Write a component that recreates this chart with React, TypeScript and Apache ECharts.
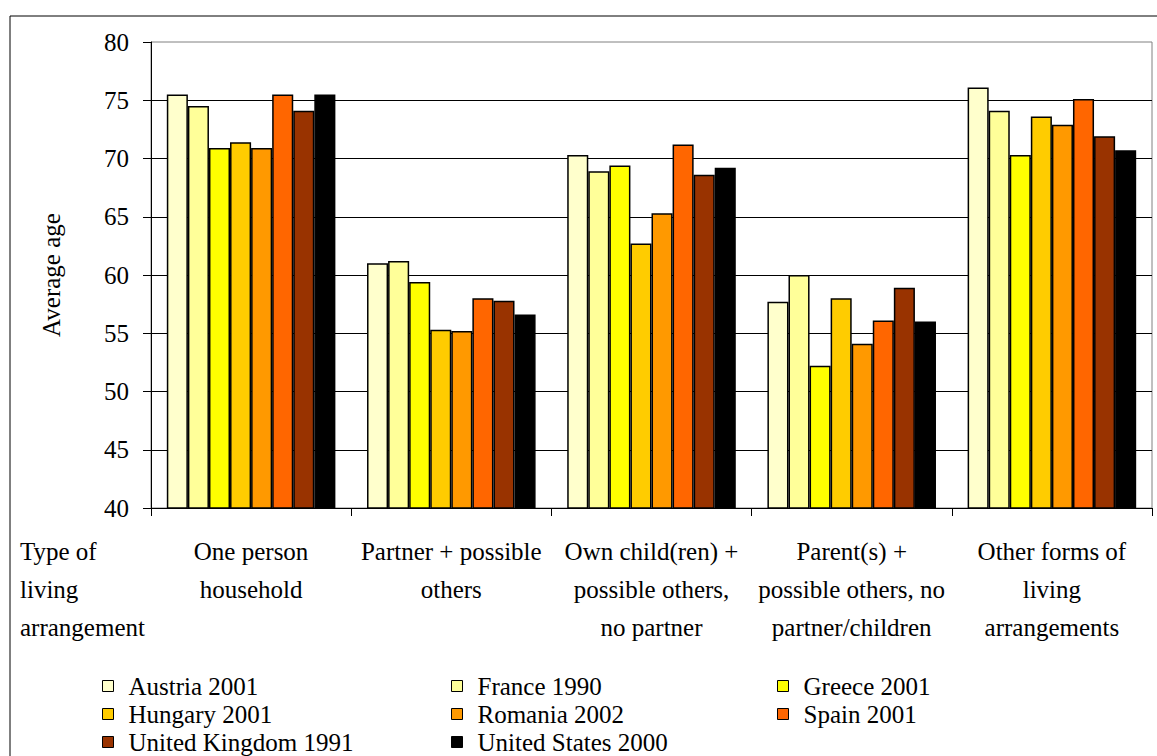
import React, { useEffect, useRef } from "react";
import * as echarts from "echarts";

// Living-arrangement categories along the x axis
const categories = [
  "One person\nhousehold",
  "Partner + possible\nothers",
  "Own child(ren) +\npossible others,\nno partner",
  "Parent(s) +\npossible others, no\npartner/children",
  "Other forms of\nliving\narrangements",
];

// Average age per country / census year
const austria2001 = [75.5, 61.0, 70.3, 57.7, 76.1];
const france1990 = [74.5, 61.2, 68.9, 60.0, 74.1];
const greece2001 = [70.9, 59.4, 69.4, 52.2, 70.3];
const hungary2001 = [71.4, 55.3, 62.7, 58.0, 73.6];
const romania2002 = [70.9, 55.2, 65.3, 54.1, 72.9];
const spain2001 = [75.5, 58.0, 71.2, 56.1, 75.1];
const uk1991 = [74.1, 57.8, 68.6, 58.9, 71.9];
const us2000 = [75.5, 56.6, 69.2, 56.0, 70.7];

const seriesNames = [
  "Austria 2001",
  "France 1990",
  "Greece 2001",
  "Hungary 2001",
  "Romania 2002",
  "Spain 2001",
  "United Kingdom 1991",
  "United States 2000",
];
const seriesValues = [
  austria2001,
  france1990,
  greece2001,
  hungary2001,
  romania2002,
  spain2001,
  uk1991,
  us2000,
];
const seriesColors = [
  "#FFFFCC",
  "#FFFF99",
  "#FFFF00",
  "#FFCC00",
  "#FF9900",
  "#FF6600",
  "#993300",
  "#000000",
];

const FONT = "Liberation Serif, Times New Roman, serif";
const FS = 25;

// legend grid: three columns, three rows
const legendCols = [102, 451, 777];
const legendRows = [672, 700, 728];

export default function App() {
  const ref = useRef<HTMLDivElement>(null);

  useEffect(() => {
    if (!ref.current) return;
    const chart = echarts.init(ref.current, undefined, { renderer: "svg" });

    const legends = seriesNames.map((name, i) => ({
      orient: "horizontal",
      left: legendCols[i % 3],
      top: legendRows[Math.floor(i / 3)],
      padding: 0,
      itemWidth: 11,
      itemHeight: 11,
      icon: "rect",
      data: [name],
      itemStyle: { borderColor: "#000", borderWidth: 1 },
      textStyle: {
        fontFamily: FONT,
        fontSize: FS,
        color: "#000",
        lineHeight: 28,
        padding: [0, 0, 0, 10],
      },
    }));

    chart.setOption({
      animation: false,
      backgroundColor: "#fff",
      textStyle: { fontFamily: FONT, color: "#000" },
      grid: {
        left: 151,
        top: 42,
        right: 5,
        bottom: 248,
        show: true,
        borderColor: "#808080",
        borderWidth: 1,
        containLabel: false,
      },
      legend: legends,
      xAxis: {
        type: "category",
        data: categories,
        axisLine: { show: true, lineStyle: { color: "#000", width: 1 } },
        axisTick: { show: true, length: 8, lineStyle: { color: "#000" } },
        axisLabel: {
          interval: 0,
          fontFamily: FONT,
          fontSize: FS,
          color: "#000",
          lineHeight: 38,
          margin: 24,
          align: "center",
        },
        splitLine: { show: false },
      },
      yAxis: {
        type: "value",
        min: 40,
        max: 80,
        interval: 5,
        name: "Average age",
        nameLocation: "middle",
        nameRotate: 90,
        nameGap: 87,
        nameTextStyle: { fontFamily: FONT, fontSize: FS, color: "#000" },
        axisLine: { show: true, lineStyle: { color: "#000", width: 1 } },
        axisTick: { show: true, length: 8, lineStyle: { color: "#000" } },
        axisLabel: {
          fontFamily: FONT,
          fontSize: FS,
          color: "#000",
          margin: 22,
        },
        splitLine: {
          show: true,
          showMaxLine: false,
          lineStyle: { color: "#000", width: 1 },
        },
      },
      series: seriesValues.map((vals, i) => ({
        name: seriesNames[i],
        type: "bar",
        data: vals,
        barGap: "0%",
        barCategoryGap: "15.8%",
        itemStyle: {
          color: seriesColors[i],
          borderColor: "#000",
          borderWidth: 1.5,
        },
      })),
      graphic: [
        {
          type: "rect",
          shape: { x: 10, y: 16, width: 1170, height: 780 },
          style: { fill: "none", stroke: "#000", lineWidth: 1 },
          silent: true,
        },
        {
          type: "text",
          left: 20,
          top: 532,
          style: {
            text: "Type of\nliving\narrangement",
            fontFamily: FONT,
            fontSize: FS,
            fill: "#000",
            lineHeight: 38,
          },
        },
      ],
    });

    return () => chart.dispose();
  }, []);

  return (
    <div
      ref={ref}
      style={{ position: "absolute", left: 0, top: 0, width: 1157, height: 756 }}
    />
  );
}
